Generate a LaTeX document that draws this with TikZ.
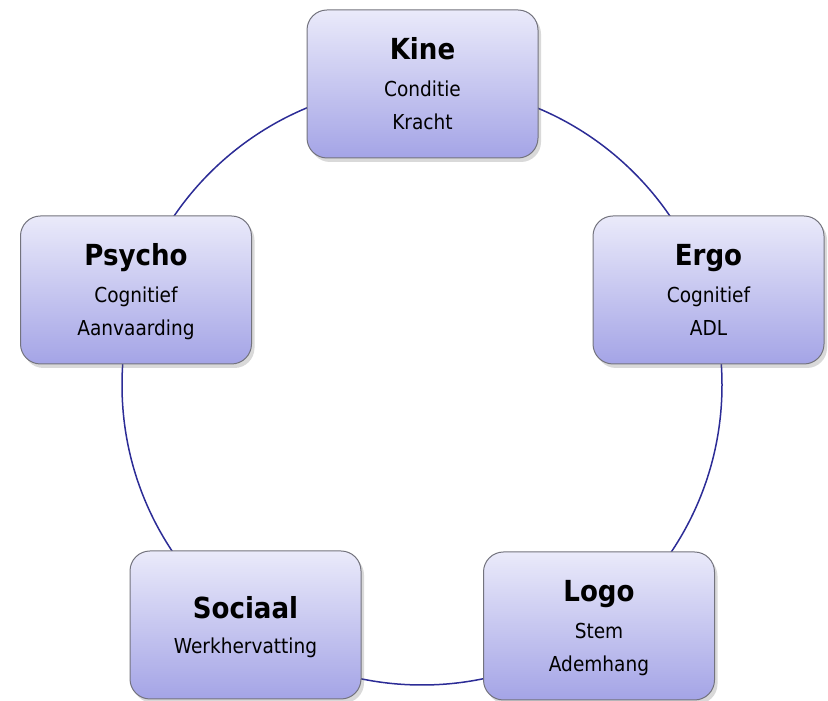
\documentclass[tikz,border=0pt]{standalone}
\usepackage{fontspec}
\setmainfont{DejaVu Sans Condensed}
\usetikzlibrary{shadows}
\definecolor{ringc}{RGB}{44,44,150}
\definecolor{boxtop}{RGB}{234,234,250}
\definecolor{boxbot}{RGB}{164,164,230}
\definecolor{boxline}{RGB}{115,115,125}
\tikzset{
  box/.style={draw=boxline, line width=1pt, rounded corners=20pt,
    minimum width=231pt, minimum height=148pt, inner sep=0pt,
    top color=boxtop, bottom color=boxbot,
    drop shadow={shadow xshift=3pt, shadow yshift=-4pt, opacity=0.25, fill=black!60}},
  ttl/.style={anchor=base, inner sep=0pt, font=\fontsize{29}{31}\selectfont\bfseries},
  sub/.style={anchor=base, inner sep=0pt, font=\fontsize{20.6}{24}\selectfont},
  ring/.style={draw=ringc, line width=1.5pt}
}
\begin{document}
\begin{tikzpicture}[x=1pt,y=1pt]
\useasboundingbox (0,0) rectangle (828,701);
\node[circle, minimum size=600pt, inner sep=0pt, ring] (ring) at (422,316) {};
\node[box] (kine) at (422.5,617) {};
\node[box] (ergo) at (708.5,411) {};
\node[box] (logo) at (599,75) {};
\node[box] (soc) at (245.5,76) {};
\node[box] (psy) at (136,411) {};
\foreach \n/\t/\a/\b in {kine/Kine/Conditie/Kracht, ergo/Ergo/Cognitief/ADL, logo/Logo/Stem/Ademhang, psy/Psycho/Cognitief/Aanvaarding}{
  \node[ttl] (\n-t) at ([yshift=-50.5pt]\n.north) {\t};
  \node[sub] (\n-a) at ([yshift=-87.5pt]\n.north) {\a};
  \node[sub] (\n-b) at ([yshift=-120.5pt]\n.north) {\b};
}
\node[ttl] (soc-t) at ([yshift=-68pt]soc.north) {Sociaal};
\node[sub] (soc-a) at ([yshift=-103pt]soc.north) {Werkhervatting};
\end{tikzpicture}
\end{document}
